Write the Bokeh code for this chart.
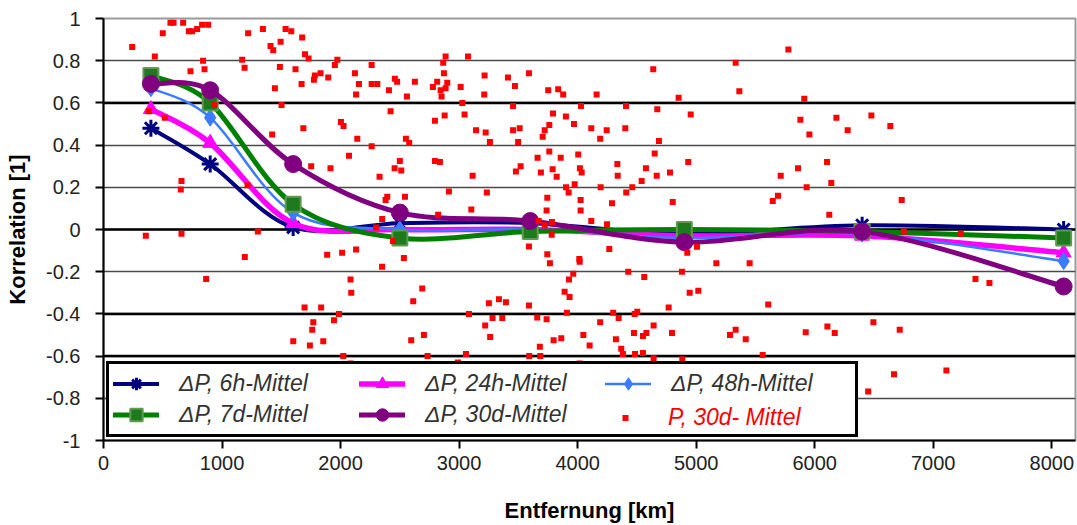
import numpy as np
from bokeh.plotting import figure
from bokeh.models import Legend, LegendItem, Span, FixedTicker, Range1d
from bokeh.embed import file_html
from bokeh.resources import INLINE

# ---------------- data ----------------
distance = [400, 900, 1600, 2500, 3600, 4900, 6400, 8100]
corr_6h = [0.48, 0.31, 0.01, 0.03, 0.03, -0.02, 0.02, 0.00]
corr_24h = [0.57, 0.41, 0.03, 0.00, 0.00, -0.03, -0.03, -0.11]
corr_48h = [0.67, 0.53, 0.08, 0.00, 0.00, -0.04, -0.02, -0.15]
corr_7d = [0.73, 0.60, 0.12, -0.04, -0.01, 0.00, -0.01, -0.04]
corr_30d = [0.69, 0.66, 0.31, 0.08, 0.04, -0.06, -0.01, -0.27]

scatter_x = [
    242, 433, 500, 565, 591, 672, 720, 748, 790, 832, 883, 840, 852, 734, 382, 517, 937,
    658, 652, 357, 658, 1215, 1302, 1192, 1170, 1190, 1220, 1345, 1409, 1432, 1494, 1446,
    1488, 1502, 1536, 1584, 1676, 1620, 1671, 1700, 1730, 1686, 1423, 1752, 1915, 1783,
    1775, 1831, 1896, 1952, 1973, 2003, 2025, 2121, 2155, 2131, 2141, 2071, 2262, 2262,
    2262, 2310, 2408, 2422, 2458, 2477, 2329, 2380, 2394, 2351, 2300, 2456, 2500, 1887,
    2013, 2131,
    866, 2350, 2084, 2090, 1696, 1836, 1770, 1761, 1944, 1986, 1601, 1741, 1854, 2023, 2084,
    2886, 3075, 2866, 2872, 2560, 2627, 2779, 2815, 2844, 2852, 2886, 2900, 3013, 3215,
    3212, 3412, 3471, 3589, 3752, 3836, 3878, 4160, 3027, 2796, 2878, 3046, 3455, 3792,
    3901, 4028, 3969, 3143, 3224, 3260, 3455, 3511, 3498, 3722, 3761, 3705, 4115, 4190,
    4245, 4402, 4408, 4638, 4852, 4672, 4954, 5333, 5364, 4686, 4650, 2551, 2579, 2512,
    2796, 2838, 3114, 2914, 3234, 3479, 3519, 3662, 3761, 3857, 3690, 3789, 3823, 4005,
    4019, 4034, 4335, 4338, 3902, 3924, 3975, 4025, 4025, 4194, 4290, 4410, 4461, 4540,
    4576, 4667, 4779, 4802, 4933, 5646, 5690, 5713, 3744, 3738, 3103, 2823, 4115, 4248,
    3783, 3722, 3671, 3781, 3589, 3744, 4267, 4014, 5007, 4925, 2534, 2442, 2543,
    2689, 2613, 3766, 4017, 3963, 3927, 3890, 3932, 4427, 4562, 4880, 5170, 5451, 4945,
    5018, 4768, 5608, 3251, 3336, 3395, 3589, 3083, 3282, 3364, 3220, 3262, 3659, 3738,
    3910, 4190, 4300, 4346, 4481, 4503, 4641, 4796, 4475, 4551, 4580, 5285, 5333, 5418,
    2596, 2703, 3862, 3797, 4048, 4101, 4323, 4368, 4382, 4484, 4551, 4641, 4883, 5561,
    5538, 3681, 3592, 3685, 4017, 3058, 2990, 2734,
    5778, 5912, 5879, 5955, 6183, 6278, 6478, 6638, 6104, 5859, 5932, 6140, 6123, 6734,
    6751, 7232,
    7356, 7474, 5924, 6107, 6169, 6495, 6717, 6669, 7111, 6451,
]
scatter_y = [
    0.865, 0.82, 0.93, 0.98, 0.98, 0.98, 0.94, 0.94, 0.95, 0.97, 0.97, 0.80, 0.76, 0.75, 0.56, 0.53, 0.59,
    0.23, 0.19, -0.03, -0.02, 0.21, -0.01, -0.13, 0.805, 0.766, 0.93, 0.95, 0.87, 0.85, 0.89, 0.67,
    0.77, 0.59, 0.95, 0.94, 0.91, 0.76, 0.69, 0.83, 0.81, 0.48, 0.45, 0.30, 0.29, 0.73,
    0.71, 0.74, 0.72, 0.78, 0.805, 0.51, 0.49, 0.74, 0.69, 0.64, 0.43, 0.35, 0.78, 0.395,
    0.69, 0.69, 0.66, 0.56, 0.715, 0.70, 0.25, 0.14, 0.155, 0.05, 0.01, 0.29, 0.325, -0.12,
    -0.11, -0.095,
    -0.235, -0.177, -0.237, -0.30, -0.37, -0.37, -0.44, -0.475, -0.43, -0.40, -0.53, -0.55, -0.53, -0.60, -0.635,
    0.82, 0.82, 0.79, 0.74, 0.63, 0.70, 0.675, 0.70, 0.66, 0.63, 0.67, 0.695, 0.675, 0.73,
    0.64, 0.72, 0.68, 0.74, 0.66, 0.665, 0.64, 0.64, 0.60, 0.515, 0.54, 0.545, 0.585, 0.55,
    0.535, 0.585, 0.50, 0.47, 0.46, 0.415, 0.47, 0.48, 0.415, 0.47, 0.495, 0.44, 0.48, 0.43,
    0.47, 0.48, 0.585, 0.76, 0.625, 0.57, 0.545, 0.79, 0.655, 0.42, 0.36, 0.43, 0.41, 0.28,
    0.325, 0.32, 0.255, 0.18, 0.175, 0.275, 0.30, 0.34, 0.37, 0.34, 0.27, 0.285, 0.25, 0.355,
    0.29, 0.27, 0.31, 0.255, 0.20, 0.175, 0.215, 0.14, 0.09, 0.20, 0.125, 0.175, 0.20, 0.23,
    0.29, 0.255, 0.27, 0.13, 0.32, 0.135, 0.16, 0.255, 0.15, 0.09, 0.095, 0.07, 0.04, 0.025,
    0.035, 0.02, 0.04, -0.025, -0.08, -0.117, -0.092, -0.14, -0.082, -0.11, -0.135, -0.054, 0.155,
    -0.28, -0.34, -0.16, -0.153, -0.21, -0.237, -0.295, -0.32, -0.20, -0.225, -0.20, -0.16, -0.16, -0.30,
    -0.29, -0.37, -0.355, -0.35, -0.33, -0.345, -0.36, -0.40, -0.42, -0.42, -0.455, -0.51, -0.417, -0.425,
    -0.395, -0.44, -0.395, -0.42, -0.40, -0.39, -0.455, -0.49, -0.49, -0.505, -0.49, -0.50, -0.475, -0.52,
    -0.525, -0.50, -0.515, -0.525, -0.50, -0.55, -0.52, -0.565, -0.59, -0.59, -0.585, -0.61, -0.615, -0.595,
    -0.64, -0.556, -0.60, -0.60, -0.635, -0.59, -0.63, -0.60,
    0.853, 0.62, 0.52, 0.45, 0.53, 0.47, 0.54, 0.49, 0.32, 0.29, 0.20, 0.22, 0.07, 0.14,
    -0.01, -0.02,
    -0.235, -0.253, -0.487, -0.46, -0.49, -0.44, -0.475, -0.686, -0.668, -0.768,
]

x_ticks = [0, 1000, 2000, 3000, 4000, 5000, 6000, 7000, 8000]
y_ticks = [-1, -0.8, -0.6, -0.4, -0.2, 0, 0.2, 0.4, 0.6, 0.8, 1]
y_tick_labels = ["-1", "-0.8", "-0.6", "-0.4", "-0.2", "0", "0.2", "0.4", "0.6", "0.8", "1"]
thick_grid = [0.6, 0, -0.4, -0.6]

labels = ["\u0394P, 6h-Mittel", "\u0394P, 24h-Mittel", "\u0394P, 48h-Mittel",
          "\u0394P, 7d-Mittel", "\u0394P, 30d-Mittel"]
scatter_label = "P, 30d- Mittel"

FONT = "Liberation Sans"


def smooth_segments(xs, ys):
    """Bezier control points (Catmull-Rom style, like a smoothed line)."""
    x = np.asarray(xs, float)
    y = np.asarray(ys, float)
    n = len(x)
    xp = np.concatenate([[x[0]], x, [x[-1]]])
    yp = np.concatenate([[y[0]], y, [y[-1]]])
    return dict(
        x0=x[:-1], y0=y[:-1], x1=x[1:], y1=y[1:],
        cx0=x[:-1] + (xp[2:n + 1] - xp[0:n - 1]) / 6.0,
        cy0=y[:-1] + (yp[2:n + 1] - yp[0:n - 1]) / 6.0,
        cx1=x[1:] - (xp[3:n + 2] - xp[1:n]) / 6.0,
        cy1=y[1:] - (yp[3:n + 2] - yp[1:n]) / 6.0,
    )


p = figure(width=1077, height=525, x_range=Range1d(0, 8200), y_range=Range1d(-1, 1),
           output_backend="svg", toolbar_location=None,
           min_border_left=103, min_border_right=2, min_border_top=18, min_border_bottom=85)
p.background_fill_color = "white"
p.border_fill_color = "white"
p.outline_line_color = "#9a9a9a"
p.outline_line_width = 2

p.xgrid.grid_line_color = None
p.ygrid.ticker = FixedTicker(ticks=y_ticks)
p.ygrid.grid_line_color = "#4a4a4a"
p.ygrid.grid_line_width = 1.5
for yv in thick_grid:
    p.add_layout(Span(location=yv, dimension="width", line_color="black", line_width=2.5, level="underlay"))

for ax in (p.xaxis[0], p.yaxis[0]):
    ax.axis_line_color = "black"
    ax.axis_line_width = 2
    ax.major_tick_line_color = "black"
    ax.major_tick_line_width = 2
    ax.major_tick_out = 8
    ax.major_tick_in = 0
    ax.minor_tick_line_color = None
    ax.major_label_text_font = FONT
    ax.major_label_text_font_size = "20px"
    ax.major_label_text_color = "#222222"
    ax.axis_label_text_font = FONT
    ax.axis_label_text_font_size = "22px"
    ax.axis_label_text_font_style = "bold"
    ax.axis_label_text_color = "black"

p.xaxis.ticker = FixedTicker(ticks=x_ticks)
p.xaxis.major_label_standoff = 7
p.xaxis.axis_label = "Entfernung [km]"
p.xaxis.axis_label_standoff = 25
p.yaxis.ticker = FixedTicker(ticks=y_ticks)
p.yaxis.major_label_overrides = dict(zip(y_ticks, y_tick_labels))
p.yaxis.major_label_standoff = 15
p.yaxis.axis_label = "Korrelation [1]"
p.yaxis.axis_label_standoff = 13

series = [
    (corr_6h, "#000080", 4, dict(marker="asterisk", size=17, line_color="#000080", line_width=3, fill_color=None)),
    (corr_24h, "#ff00ff", 5.5, dict(marker="triangle", size=15, line_color="#ff00ff", fill_color="#ff00ff")),
    (corr_48h, "#3a7bff", 2.5, dict(marker="diamond", size=17, line_color="#3a7bff", fill_color="#3a7bff")),
    (corr_7d, "#008000", 5, dict(marker="square", size=15, line_color="#5f9a50", line_width=2, fill_color="#1d7a1d")),
    (corr_30d, "#800080", 5, dict(marker="circle", size=17, line_color="#800080", fill_color="#800080")),
]

items = []
for (vals, color, lw, mk), lab in zip(series, labels):
    seg = smooth_segments(distance, vals)
    rl = p.bezier(x0=seg["x0"], y0=seg["y0"], x1=seg["x1"], y1=seg["y1"],
                  cx0=seg["cx0"], cy0=seg["cy0"], cx1=seg["cx1"], cy1=seg["cy1"],
                  line_color=color, line_width=lw, line_cap="round")
    rm = p.scatter(distance, vals, **mk)
    items.append(LegendItem(label=lab, renderers=[rl, rm]))

rs = p.scatter(scatter_x, scatter_y, marker="square", size=6, fill_color="#ff0000", line_color=None)

GW, GS, LW, PAD = 46, 20, 180, 4
common = dict(orientation="horizontal", glyph_width=GW, label_standoff=GS, label_width=LW,
              label_height=31, spacing=0, padding=PAD, margin=0,
              label_text_font=FONT, label_text_font_style="italic", label_text_font_size="23px")
leg_a = Legend(items=items, ncols=3, location=(3, 3), glyph_height=31,
               label_text_color="#333333", border_line_color="black", border_line_width=3,
               border_line_alpha=1.0,
               background_fill_color="white", background_fill_alpha=1.0, **common)
leg_b = Legend(items=[LegendItem(label=scatter_label, renderers=[rs])],
               location=(3 + 2 * (GW + GS + LW), 3), glyph_height=15,
               label_text_color="#ff0000", border_line_alpha=0, background_fill_alpha=0, **common)
p.add_layout(leg_a)
p.add_layout(leg_b)

open("out.html", "w").write(file_html(p, INLINE))
